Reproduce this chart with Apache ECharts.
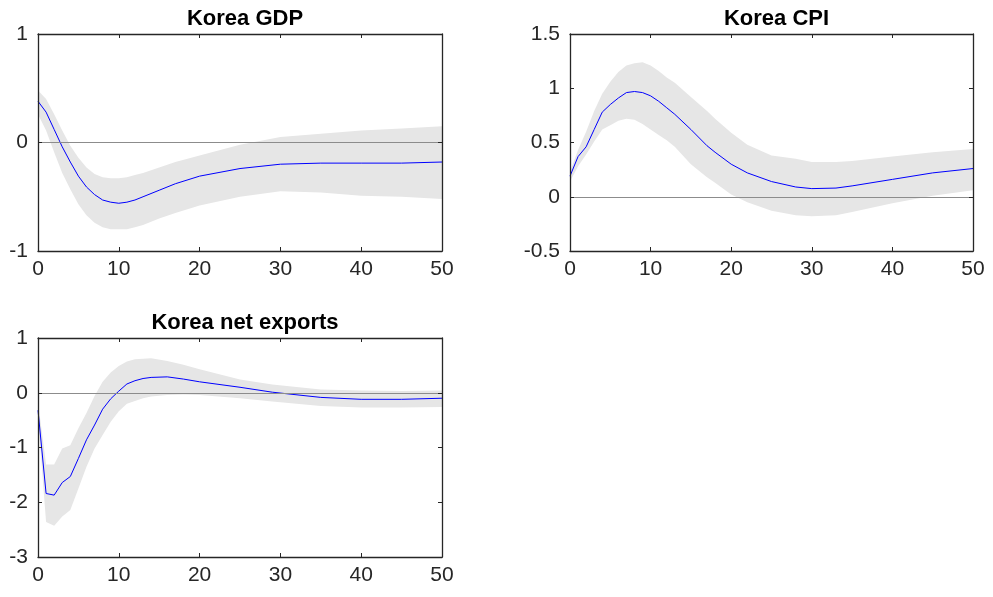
<!DOCTYPE html>
<html>
<head>
<meta charset="utf-8">
<script src="https://cdn.jsdelivr.net/npm/echarts@6/dist/echarts.min.js"></script>
<style>
  html, body { margin: 0; padding: 0; background: #fff; }
  #chart { width: 993px; height: 597px; }
</style>
</head>
<body>
<div id="chart"></div>
<script>
// horizons and impulse responses
const gdpX    = [0,1,2,3,4,5,6,7,8,9,10,11,12,13,15,17,20,25,30,35,40,45,50]
const gdpMean = [0.38,0.28,0.12,-0.04,-0.18,-0.31,-0.41,-0.48,-0.53,-0.55,-0.56,-0.55,-0.53,-0.50,-0.44,-0.38,-0.31,-0.24,-0.20,-0.19,-0.19,-0.19,-0.18]
const gdpHi   = [0.48,0.40,0.26,0.11,-0.03,-0.14,-0.23,-0.29,-0.32,-0.33,-0.33,-0.32,-0.30,-0.28,-0.23,-0.18,-0.12,-0.02,0.05,0.08,0.11,0.13,0.15]
const gdpLo   = [0.26,0.11,-0.09,-0.28,-0.43,-0.57,-0.67,-0.74,-0.78,-0.80,-0.80,-0.80,-0.78,-0.76,-0.70,-0.65,-0.58,-0.50,-0.45,-0.46,-0.49,-0.50,-0.52]

const cpiX    = [0,1,2,3,4,5,6,7,8,9,10,11,12,13,15,17,18,20,22,25,28,30,33,35,40,45,50]
const cpiMean = [0.19,0.37,0.46,0.62,0.78,0.85,0.91,0.96,0.97,0.96,0.93,0.88,0.82,0.76,0.62,0.47,0.41,0.30,0.22,0.14,0.09,0.075,0.08,0.10,0.16,0.22,0.26]
const cpiHi   = [0.23,0.43,0.60,0.79,0.95,1.06,1.15,1.21,1.23,1.24,1.21,1.16,1.10,1.05,0.92,0.79,0.72,0.59,0.48,0.38,0.35,0.32,0.32,0.33,0.37,0.41,0.44]
const cpiLo   = [0.14,0.28,0.39,0.51,0.62,0.66,0.70,0.72,0.71,0.67,0.62,0.57,0.52,0.46,0.30,0.18,0.13,0.02,-0.05,-0.13,-0.17,-0.18,-0.17,-0.14,-0.06,0.01,0.06]

const nxX     = [0,1,2,3,4,5,6,7,8,9,10,11,12,13,14,16,18,20,25,29,35,40,45,50]
const nxMean  = [-0.32,-1.84,-1.87,-1.64,-1.53,-1.20,-0.86,-0.59,-0.30,-0.11,0.03,0.16,0.22,0.26,0.28,0.29,0.25,0.20,0.10,0.01,-0.085,-0.12,-0.12,-0.10]
const nxHi    = [-0.18,-1.31,-1.31,-1.02,-0.96,-0.65,-0.37,-0.06,0.20,0.37,0.49,0.57,0.61,0.62,0.63,0.58,0.51,0.43,0.24,0.15,0.06,0.04,0.03,0.04]
const nxLo    = [-0.45,-2.36,-2.43,-2.26,-2.14,-1.75,-1.35,-1.02,-0.77,-0.53,-0.34,-0.20,-0.15,-0.10,-0.07,-0.04,-0.03,-0.04,-0.10,-0.16,-0.24,-0.27,-0.27,-0.26]

const titles = ['Korea GDP', 'Korea CPI', 'Korea net exports']
const yRanges = [[-1, 1, 1], [-0.5, 1.5, 0.5], [-3, 1, 1]]

const FONT = '"Liberation Sans", Arial, Helvetica, sans-serif'
const AXIS_COLOR = '#262626'

const panels = [
    { x: gdpX, mean: gdpMean, hi: gdpHi, lo: gdpLo, grid: { left: 38, top: 34, width: 404, height: 217 } },
    { x: cpiX, mean: cpiMean, hi: cpiHi, lo: cpiLo, grid: { left: 570, top: 34, width: 403, height: 217 } },
    { x: nxX, mean: nxMean, hi: nxHi, lo: nxLo, grid: { left: 38, top: 338, width: 404, height: 219 } },
]

const zip = (xs, ys) => xs.map((x, i) => [x, ys[i]])

const bandRenderer = (xs, hi, lo) => (params, api) => {
    const pts = []
    for (let i = 0; i < xs.length; i++) pts.push(api.coord([xs[i], hi[i]]))
    for (let i = xs.length - 1; i >= 0; i--) pts.push(api.coord([xs[i], lo[i]]))
    return { type: 'polygon', shape: { points: pts }, style: { fill: '#e6e6e6' }, silent: true }
}

const grids = [], xAxes = [], yAxes = [], series = [], title = []

panels.forEach((p, i) => {
    grids.push(Object.assign({ show: false }, p.grid))

    const [ymin, ymax, yint] = yRanges[i]
    const tick = { show: true, inside: true, length: 4, lineStyle: { color: AXIS_COLOR, width: 1 } }
    const line = { show: true, onZero: false, lineStyle: { color: AXIS_COLOR, width: 1.3 } }
    const label = { show: true, color: AXIS_COLOR, fontSize: 21, fontFamily: FONT }
    const common = { type: 'value', gridIndex: i, z: 10, axisLine: line, axisTick: tick, splitLine: { show: false } }

    xAxes.push(Object.assign({ position: 'bottom', min: 0, max: 50, interval: 10,
        axisLabel: Object.assign({ margin: 8 }, label) }, common))
    xAxes.push(Object.assign({ position: 'top', min: 0, max: 50, interval: 10,
        axisLabel: { show: false } }, common))
    yAxes.push(Object.assign({ position: 'left', min: ymin, max: ymax, interval: yint,
        axisLabel: Object.assign({ margin: 10 }, label) }, common))
    yAxes.push(Object.assign({ position: 'right', min: ymin, max: ymax, interval: yint,
        axisLabel: { show: false } }, common))

    // confidence band + zero line
    series.push({
        type: 'custom', xAxisIndex: i * 2, yAxisIndex: i * 2, z: 1, clip: true,
        data: [[p.x[0], p.hi[0]]],
        renderItem: bandRenderer(p.x, p.hi, p.lo),
        markLine: { silent: true, symbol: 'none', label: { show: false },
            lineStyle: { color: '#8c8c8c', width: 1, type: 'solid' },
            data: [{ yAxis: 0 }] }
    })
    series.push({
        type: 'line', xAxisIndex: i * 2, yAxisIndex: i * 2, z: 3,
        data: zip(p.x, p.mean), showSymbol: false, symbol: 'none',
        lineStyle: { color: '#0000ff', width: 1 }
    })

    title.push({
        text: titles[i],
        left: p.grid.left + p.grid.width / 2, top: p.grid.top - 31, textAlign: 'center',
        textStyle: { fontSize: 22, fontWeight: 'bold', color: '#000', fontFamily: FONT }
    })
})

const chart = echarts.init(document.getElementById('chart'), null, { renderer: 'canvas' })
chart.setOption({
    animation: false,
    backgroundColor: '#fff',
    title: title,
    grid: grids,
    xAxis: xAxes,
    yAxis: yAxes,
    series: series
})
</script>
</body>
</html>
